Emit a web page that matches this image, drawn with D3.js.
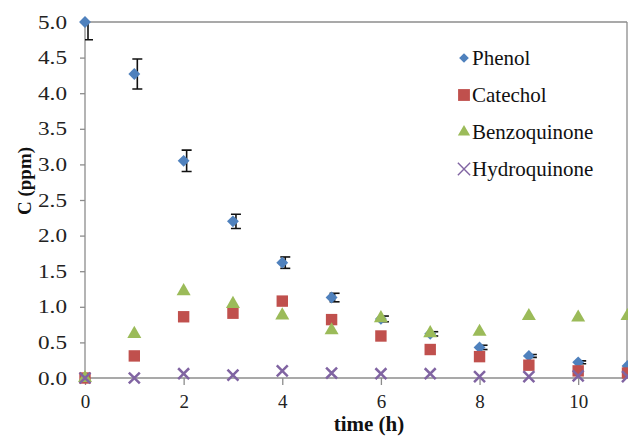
<!DOCTYPE html>
<html>
<head>
	<meta charset="utf-8">
	<title>C vs time</title>
	<script src="https://d3js.org/d3.v7.min.js" charset="utf-8"></script>
	<style>
		body{margin:0;background:#fff;}
	</style>
</head>
<body>
	<script>
	var w=628;
	var h=436;
	var serif="'Liberation Serif', 'Times New Roman', Times, serif";

	var time=[0,1,2,3,4,5,6,7,8,9,10,11];
	var phenol=[5.0,4.27,3.05,2.2,1.62,1.13,0.83,0.62,0.43,0.31,0.22,0.17];
	var phenolErr=[0.25,0.21,0.15,0.1,0.08,0.06,0.04,0.03,0.03,0.02,0.02,0.01];
	var catechol=[0,0.31,0.86,0.91,1.08,0.82,0.59,0.40,0.30,0.18,0.10,0.07];
	var benzoquinone=[0,0.62,1.22,1.04,0.88,0.67,0.84,0.63,0.65,0.87,0.85,0.87];
	var hydroquinone=[0,0.0,0.06,0.04,0.10,0.07,0.06,0.06,0.02,0.02,0.03,0.02];
	var xTicks=[0,2,4,6,8,10];
	var yTicks=[0,0.5,1,1.5,2,2.5,3,3.5,4,4.5,5];
	var names=["Phenol","Catechol","Benzoquinone","Hydroquinone"];
	var colors=["#4f81bd","#c0504d","#9bbb59","#8064a2"];

	var x=d3.scaleLinear().domain([0,11]).range([85,627.5]);
	var y=d3.scaleLinear().domain([0,5]).range([378,22]);

	var svg=d3.select("body").append("svg").attr("width",w).attr("height",h);

	svg.append("defs").append("clipPath").attr("id","plot")
		.append("rect").attr("x",x(0)).attr("y",y(5)).attr("width",x(11)-x(0)).attr("height",y(0)-y(5));

	// frame lines: top and right
	svg.append("line").attr("x1",x(0)).attr("x2",627).attr("y1",y(5)).attr("y2",y(5))
		.attr("stroke","#8c8c8c").attr("stroke-width",1.3);
	svg.append("line").attr("x1",627).attr("x2",627).attr("y1",y(5)).attr("y2",y(0))
		.attr("stroke","#8c8c8c").attr("stroke-width",1.3);

	var xAxis=svg.append("g").attr("transform","translate(0,"+y(0)+")")
		.call(d3.axisBottom(x).tickValues(xTicks).tickSize(7).tickPadding(10).tickFormat(d3.format("d")));
	xAxis.select(".domain").attr("d","M"+x(0)+",0H627");
	var yAxis=svg.append("g").attr("transform","translate("+x(0)+",0)")
		.call(d3.axisLeft(y).tickValues(yTicks).tickSize(5).tickPadding(13).tickFormat(d3.format(".1f")));
	yAxis.select(".domain").attr("d","M0,"+y(5)+"V"+y(0));
	svg.selectAll(".domain, .tick line").attr("stroke","#8c8c8c").attr("stroke-width",1.3);
	xAxis.attr("font-family",null);
	yAxis.attr("font-family",null);
	svg.selectAll(".tick text").attr("font-size",19).attr("fill","#222").style("font-family",serif);
	// y labels in the reference are drawn wider than normal
	yAxis.selectAll(".tick text").attr("x",-18/1.22).attr("transform","scale(1.22,1)");

	// error bars (phenol)
	var eb=svg.append("g").attr("clip-path","url(#plot)").attr("stroke","#111").attr("stroke-width",1.6);
	time.forEach(function(t,i){
		var cx=x(t)+3, top=y(phenol[i]+phenolErr[i]), bot=y(phenol[i]-phenolErr[i]);
		eb.append("line").attr("x1",cx).attr("x2",cx).attr("y1",top).attr("y2",bot);
		eb.append("line").attr("x1",cx-5).attr("x2",cx+5).attr("y1",top).attr("y2",top);
		eb.append("line").attr("x1",cx-5).attr("x2",cx+5).attr("y1",bot).attr("y2",bot);
	});

	var symDiamond=d3.symbol().type(d3.symbolDiamond2).size(90);
	var symSquare=d3.symbol().type(d3.symbolSquare).size(130);
	var symTri=d3.symbol().type(d3.symbolTriangle).size(85);
	var symX=d3.symbol().type(d3.symbolTimes).size(80);

	function series(vals,sym,color,isX){
		svg.append("g").selectAll("path").data(vals).enter().append("path")
			.attr("d",sym)
			.attr("transform",function(d,i){return "translate("+x(time[i])+","+y(d)+")";})
			.attr("fill",isX?"none":color)
			.attr("stroke",isX?color:"none")
			.attr("stroke-width",isX?2.5:0);
	}
	series(phenol,symDiamond,colors[0]);
	series(catechol,symSquare,colors[1]);
	series(benzoquinone,symTri,colors[2]);
	series(hydroquinone,symX,colors[3],true);

	// legend
	var syms=[d3.symbol().type(d3.symbolDiamond2).size(60),d3.symbol().type(d3.symbolSquare).size(140),
		d3.symbol().type(d3.symbolTriangle).size(65),d3.symbol().type(d3.symbolTimes).size(100)];
	var lg=svg.append("g");
	names.forEach(function(n,i){
		var ly=58+i*37;
		lg.append("path").attr("d",syms[i]).attr("transform","translate(464,"+ly+")")
			.attr("fill",i==3?"none":colors[i]).attr("stroke",i==3?colors[i]:"none").attr("stroke-width",1.4);
		lg.append("text").attr("x",472).attr("y",ly+7).attr("font-size",21).attr("fill","#111")
			.style("font-family",serif).text(n);
	});

	// axis titles
	svg.append("text").attr("x",369).attr("y",431).attr("text-anchor","middle").style("font-family",serif)
		.attr("font-size",21).attr("font-weight","bold").attr("fill","#111").text("time (h)");
	svg.append("text").attr("transform","translate(31,181) rotate(-90)").attr("text-anchor","middle").style("font-family",serif)
		.attr("font-size",19).attr("font-weight","bold").attr("fill","#111").text("C (ppm)");
	</script>
</body>
</html>
